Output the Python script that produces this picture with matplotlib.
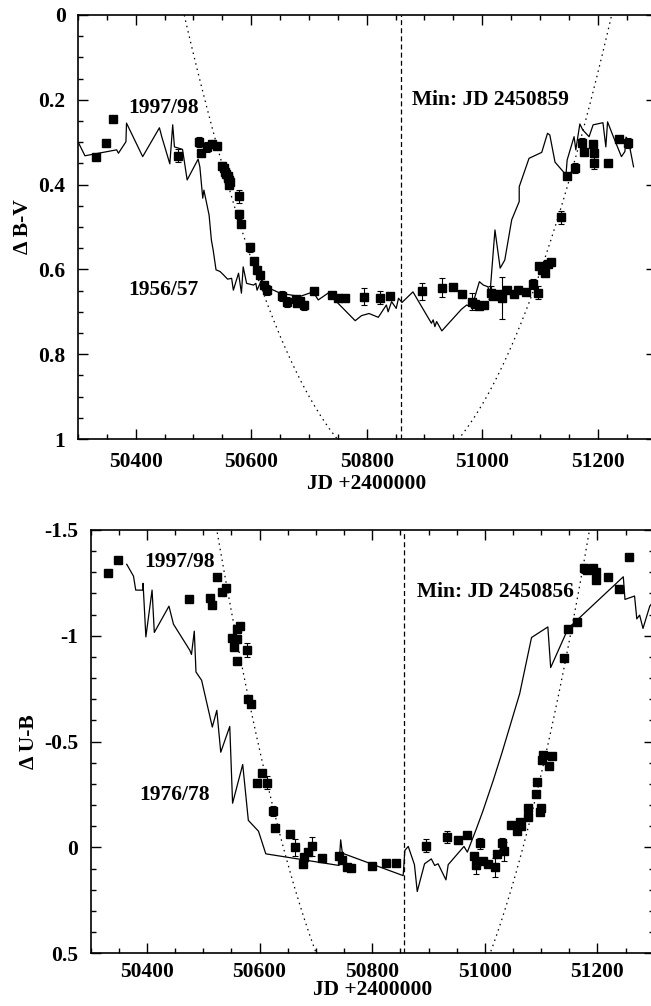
import matplotlib
matplotlib.use("Agg")
import matplotlib.pyplot as plt
import numpy as np
from matplotlib.ticker import MultipleLocator, FixedLocator, FixedFormatter

plt.rcParams['font.family'] = ['Liberation Serif', 'DejaVu Serif']
plt.rcParams['font.weight'] = 'bold'
plt.rcParams['axes.unicode_minus'] = False

# ---------------- Top panel: Delta B-V ----------------
bv_jd = [50331, 50348, 50360, 50474, 50510, 50513, 50523, 50532, 50540, 50550,
         50553, 50555, 50557, 50559, 50560, 50561, 50563, 50562, 50578, 50579,
         50583, 50597, 50605, 50610, 50616, 50622, 50627, 50653, 50662, 50677,
         50679, 50684, 50691, 50709, 50740, 50751, 50762, 50795, 50823, 50841,
         50895, 50930, 50950, 50965, 50982, 50987, 50994, 51003, 51016, 51018,
         51028, 51034, 51042, 51055, 51062, 51075, 51088, 51097, 51099, 51103,
         51109, 51113, 51119, 51136, 51146, 51161, 51173, 51176, 51191, 51194,
         51194, 51217, 51236, 51253]
bv_val = [0.334, 0.301, 0.245, 0.332, 0.299, 0.325, 0.311, 0.304, 0.309, 0.355,
          0.360, 0.370, 0.375, 0.380, 0.385, 0.390, 0.395, 0.400, 0.428, 0.470,
          0.493, 0.548, 0.580, 0.601, 0.613, 0.637, 0.649, 0.663, 0.676, 0.670,
          0.679, 0.675, 0.685, 0.651, 0.660, 0.668, 0.667, 0.664, 0.667, 0.662,
          0.652, 0.643, 0.641, 0.659, 0.676, 0.682, 0.686, 0.684, 0.655, 0.662,
          0.658, 0.667, 0.649, 0.659, 0.649, 0.654, 0.635, 0.655, 0.592, 0.601,
          0.608, 0.588, 0.582, 0.477, 0.379, 0.360, 0.301, 0.322, 0.304, 0.325,
          0.348, 0.350, 0.293, 0.301]
bv_err = [0, 0, 0, 0.015, 0.012, 0, 0.012, 0, 0, 0.008,
          0, 0, 0, 0, 0, 0, 0, 0, 0.015, 0.010,
          0, 0.010, 0.006, 0, 0, 0.008, 0.012, 0.012, 0.012, 0,
          0, 0, 0.010, 0, 0, 0, 0, 0.020, 0.015, 0,
          0.020, 0.022, 0, 0, 0.020, 0, 0, 0.008, 0.015, 0,
          0, 0.049, 0, 0, 0, 0, 0.012, 0.015, 0, 0,
          0, 0, 0, 0.015, 0, 0.012, 0.010, 0, 0, 0,
          0.015, 0, 0, 0.012]

bv_line_jd = [50300, 50312, 50367, 50370, 50383, 50384, 50412, 50441, 50445, 50459,
              50464, 50467, 50481, 50489, 50508, 50511, 50516, 50518, 50527, 50531,
              50534, 50539, 50546, 50552, 50559, 50566, 50569, 50578, 50583, 50586,
              50592, 50604, 50608, 50610, 50618, 50632, 50650, 50684, 50707, 50716,
              50733, 50780, 50791, 50804, 50820, 50834, 50837, 50843, 50851, 50855,
              50861, 50880, 50912, 50915, 50918, 50921, 50930, 50964, 50973, 50982,
              50995, 51002, 51010, 51013, 51022, 51031, 51039, 51051, 51064, 51064,
              51081, 51103, 51113, 51117, 51126, 51145, 51147, 51159, 51162, 51169,
              51174, 51185, 51192, 51199, 51209, 51214, 51217, 51227, 51241, 51247,
              51249, 51253, 51262]
bv_line_val = [0.299, 0.332, 0.318, 0.326, 0.299, 0.255, 0.334, 0.266, 0.287, 0.351,
               0.259, 0.311, 0.317, 0.389, 0.340, 0.358, 0.432, 0.413, 0.472, 0.531,
               0.554, 0.601, 0.605, 0.613, 0.623, 0.621, 0.649, 0.609, 0.656, 0.594,
               0.633, 0.637, 0.633, 0.649, 0.625, 0.645, 0.656, 0.664, 0.653, 0.672,
               0.656, 0.721, 0.709, 0.704, 0.713, 0.684, 0.700, 0.676, 0.692, 0.668,
               0.678, 0.653, 0.727, 0.719, 0.735, 0.723, 0.745, 0.694, 0.684, 0.689,
               0.629, 0.637, 0.641, 0.664, 0.507, 0.597, 0.578, 0.483, 0.440, 0.405,
               0.338, 0.324, 0.279, 0.283, 0.347, 0.377, 0.342, 0.287, 0.318, 0.257,
               0.271, 0.287, 0.259, 0.257, 0.254, 0.311, 0.252, 0.287, 0.334, 0.322,
               0.288, 0.295, 0.358]

bv_min_jd = 50859
# parabolic model (dotted): y = peak - curv * (JD - centre)^2
bv_model = dict(centre=50854, peak=1.0876, curv=7.94e-6)

# ---------------- Bottom panel: Delta U-B ----------------
ub_jd = [50331, 50349, 50475, 50512, 50516, 50525, 50534, 50541, 50551, 50555,
         50559, 50560, 50565, 50559, 50578, 50580, 50584, 50596, 50605, 50614,
         50623, 50628, 50654, 50663, 50677, 50679, 50686, 50693, 50711, 50741,
         50747, 50756, 50763, 50799, 50825, 50843, 50896, 50932, 50953, 50968,
         50981, 50985, 50992, 50997, 51006, 51019, 51021, 51030, 51034, 51046,
         51057, 51062, 51065, 51077, 51077, 51091, 51093, 51098, 51100, 51101,
         51103, 51114, 51120, 51141, 51148, 51164, 51176, 51181, 51192, 51197,
         51198, 51219, 51238, 51256]
ub_val = [-1.298, -1.358, -1.173, -1.180, -1.148, -1.279, -1.208, -1.227, -0.992, -0.948,
          -0.983, -1.030, -1.047, -0.881, -0.932, -0.700, -0.677, -0.304, -0.351, -0.306,
          -0.172, -0.091, -0.065, 0.000, 0.077, 0.043, 0.022, -0.005, 0.051, 0.041,
          0.057, 0.093, 0.098, 0.089, 0.073, 0.074, -0.009, -0.049, -0.033, -0.060,
          0.038, 0.085, -0.020, 0.062, 0.077, 0.093, 0.033, -0.020, 0.018, -0.104,
          -0.077, -0.120, -0.100, -0.186, -0.143, -0.251, -0.309, -0.167, -0.188, -0.415,
          -0.435, -0.385, -0.432, -0.896, -1.031, -1.066, -1.319, -1.311, -1.319, -1.300,
          -1.263, -1.279, -1.221, -1.374]
ub_err = [0, 0, 0.015, 0.015, 0, 0, 0, 0, 0, 0,
          0, 0, 0, 0, 0.032, 0, 0, 0, 0, 0.030,
          0.025, 0, 0, 0.040, 0, 0, 0, 0.045, 0, 0,
          0, 0, 0, 0, 0.015, 0, 0.030, 0.030, 0, 0,
          0, 0.040, 0.025, 0, 0, 0.045, 0, 0.025, 0.045, 0,
          0, 0, 0, 0, 0, 0, 0, 0, 0, 0,
          0, 0, 0, 0, 0, 0, 0.020, 0, 0, 0,
          0, 0, 0, 0]

ub_line_jd = [50364, 50376, 50380, 50393, 50393, 50398, 50409, 50413, 50439, 50447,
              50476, 50479, 50484, 50487, 50497, 50516, 50524, 50531, 50547, 50552,
              50570, 50580, 50598, 50611, 50741, 50744, 50747, 50855, 50858, 50864,
              50875, 50880, 50893, 50905, 50911, 50917, 50931, 50935, 50963, 50969,
              50985, 50997, 51015, 51030, 51062, 51083, 51112, 51117, 51148, 51246,
              51249, 51266, 51270, 51275, 51281, 51293, 51310]
ub_line_val = [-1.338, -1.282, -1.216, -1.216, -1.248, -0.995, -1.216, -1.016, -1.140, -1.055,
               -0.932, -0.912, -1.022, -0.829, -0.790, -0.569, -0.648, -0.450, -0.572, -0.209,
               -0.392, -0.128, -0.077, 0.030, 0.085, -0.036, 0.027, 0.133, 0.014, -0.005,
               0.081, 0.208, 0.077, 0.054, 0.085, 0.077, 0.153, 0.081, -0.005, 0.022,
               -0.088, -0.175, -0.317, -0.443, -0.727, -0.992, -1.042, -0.850, -1.035, -1.279,
               -1.172, -1.188, -1.080, -1.098, -1.035, -1.140, -1.200]

ub_min_jd = 50856
ub_model = dict(centre=50855, peak=1.057, curv=2.334e-5)

FS = 15.5

fig = plt.figure(figsize=(6.51, 10.06), dpi=100)
W, H = 651.0, 1006.0
ax1 = fig.add_axes([78 / W, 1 - 439 / H, 577.5 / W, 424 / H])
ax2 = fig.add_axes([90.7 / W, 1 - 953.3 / H, 563 / W, 423.3 / H])


def style(ax, xpad, labelpad):
    ax.set_xlim(50300, 51300)
    ax.xaxis.set_major_locator(FixedLocator([50400, 50600, 50800, 51000, 51200]))
    ax.xaxis.set_minor_locator(MultipleLocator(50))
    ax.tick_params(which='both', direction='in', top=True, right=True,
                   labelsize=FS, width=1.0)
    ax.tick_params(which='major', length=7, pad=9)
    ax.tick_params(axis='x', which='major', pad=xpad)
    ax.tick_params(which='minor', length=3.5)
    for s in ax.spines.values():
        s.set_linewidth(1.2)
    for lab in ax.get_xticklabels() + ax.get_yticklabels():
        lab.set_fontweight('bold')
    ax.set_xlabel('JD +2400000', fontsize=FS, fontweight='bold', labelpad=labelpad)


def draw_points(ax, x, y, e):
    x = np.asarray(x); y = np.asarray(y); e = np.asarray(e)
    m = e > 0
    ax.errorbar(x[m], y[m], yerr=e[m], fmt='none', ecolor='black',
                elinewidth=0.8, capsize=2.2, capthick=0.8, zorder=3)
    ax.plot(x, y, 's', color='black', markersize=5.2, zorder=4)


# ---- top panel
xx = np.linspace(50300, 51300, 600)
ax1.plot(bv_line_jd, bv_line_val, '-', color='black', lw=0.9, zorder=2)
draw_points(ax1, bv_jd, bv_val, bv_err)
ax1.plot(xx, bv_model['peak'] - bv_model['curv'] * (xx - bv_model['centre']) ** 2,
         linestyle=(0, (1.2, 3.2)), color='black', lw=0.9, zorder=1)
ax1.axvline(bv_min_jd, color='black', linestyle=(0, (4, 2.5)), lw=0.9)
ax1.set_ylim(1, 0)
ax1.yaxis.set_major_locator(FixedLocator([0, 0.2, 0.4, 0.6, 0.8, 1.0]))
ax1.yaxis.set_major_formatter(FixedFormatter(['0', '0.2', '0.4', '0.6', '0.8', '1']))
ax1.yaxis.set_minor_locator(MultipleLocator(0.05))
style(ax1, 9, 2)
ax1.set_ylabel('Δ B-V', fontsize=FS, fontweight='bold', labelpad=4)
ax1.text(50387, 0.219, '1997/98', fontsize=FS, fontweight='bold', va='center', ha='left')
ax1.text(50387, 0.649, '1956/57', fontsize=FS, fontweight='bold', va='center', ha='left')
ax1.text(50878, 0.200, 'Min: JD 2450859', fontsize=FS, fontweight='bold', va='center', ha='left')

# ---- bottom panel
ax2.plot(ub_line_jd, ub_line_val, '-', color='black', lw=0.9, zorder=2)
draw_points(ax2, ub_jd, ub_val, ub_err)
ax2.plot(xx, ub_model['peak'] - ub_model['curv'] * (xx - ub_model['centre']) ** 2,
         linestyle=(0, (1.2, 3.2)), color='black', lw=0.9, zorder=1)
ax2.axvline(ub_min_jd, color='black', linestyle=(0, (4, 2.5)), lw=0.9)
ax2.set_ylim(0.5, -1.5)
ax2.yaxis.set_major_locator(FixedLocator([-1.5, -1.0, -0.5, 0.0, 0.5]))
ax2.yaxis.set_major_formatter(FixedFormatter(['-1.5', '-1', '-0.5', '0', '0.5']))
ax2.yaxis.set_minor_locator(MultipleLocator(0.1))
style(ax2, 6, -1)
ax2.set_ylabel('Δ U-B', fontsize=FS, fontweight='bold', labelpad=4)
ax2.text(50396, -1.349, '1997/98', fontsize=FS, fontweight='bold', va='center', ha='left')
ax2.text(50387, -0.246, '1976/78', fontsize=FS, fontweight='bold', va='center', ha='left')
ax2.text(50879, -1.207, 'Min: JD 2450856', fontsize=FS, fontweight='bold', va='center', ha='left')

fig.savefig('out.png', dpi=100)
